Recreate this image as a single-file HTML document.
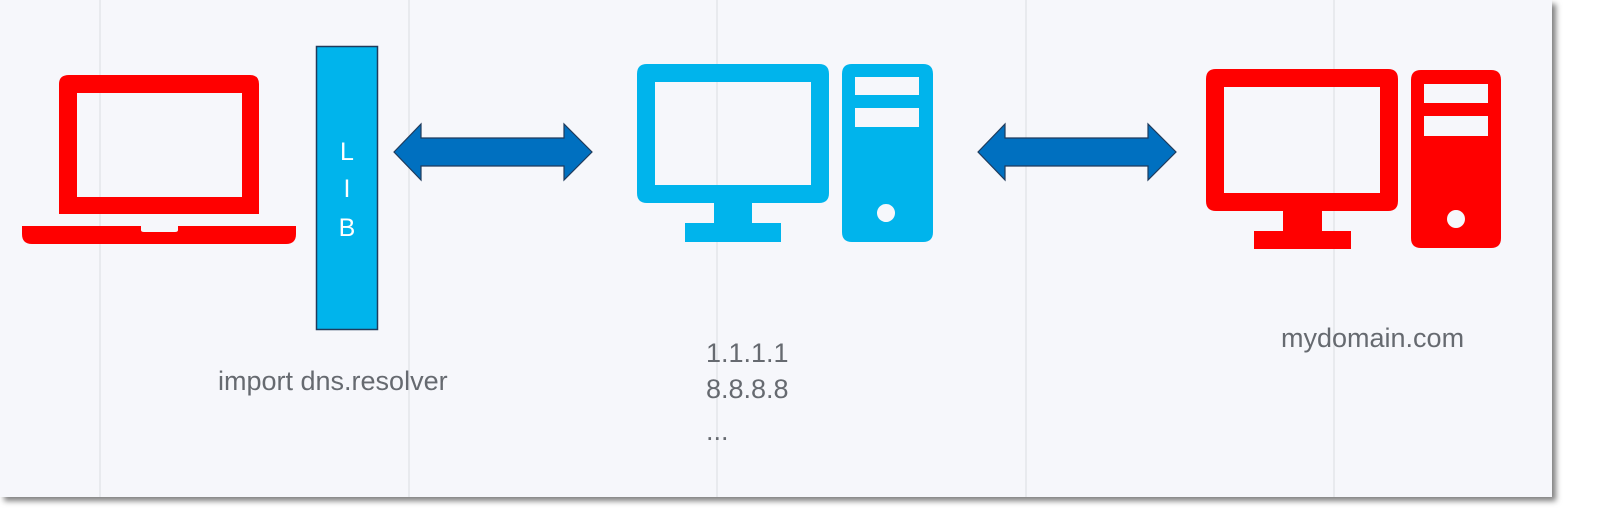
<!DOCTYPE html>
<html><head><meta charset="utf-8"><style>
body{margin:0;width:1600px;height:519px;background:#fff;overflow:hidden;font-family:"Liberation Sans",sans-serif}
</style></head><body>
<svg width="1600" height="519" viewBox="0 0 1600 519" xmlns="http://www.w3.org/2000/svg">
<defs><filter id="sh" x="-2%" y="-2%" width="105%" height="110%"><feDropShadow dx="4" dy="4" stdDeviation="3" flood-color="#000" flood-opacity="0.5"/></filter></defs>
<rect x="0" y="0" width="1552" height="497" fill="#f6f7fb" filter="url(#sh)"/>
<g stroke="#e3e5ea" stroke-width="1.5">
<line x1="100" y1="0" x2="100" y2="497"/><line x1="409" y1="0" x2="409" y2="497"/>
<line x1="717" y1="0" x2="717" y2="497"/><line x1="1026" y1="0" x2="1026" y2="497"/>
<line x1="1334" y1="0" x2="1334" y2="497"/></g>
<!-- laptop -->
<path fill-rule="evenodd" fill="#ff0000" d="M69 75 H250 Q259 75 259 84 V214 H59 V84 Q59 75 69 75 Z M77 93 V197 H242 V93 Z"/>
<path fill="#ff0000" d="M22 226 H141 V230 Q141 232 144 232 H175 Q178 232 178 230 V226 H296 V234 Q296 244 286 244 H32 Q22 244 22 234 Z"/>
<!-- LIB -->
<rect x="316.5" y="46.5" width="61" height="283" fill="#00b4ec" stroke="#1f3b5c" stroke-width="1.5"/>
<text x="347" y="160" fill="#fff" font-size="25" text-anchor="middle">L</text>
<text x="347" y="197" fill="#fff" font-size="25" text-anchor="middle">I</text>
<text x="347" y="236" fill="#fff" font-size="25" text-anchor="middle">B</text>
<!-- arrows -->
<path fill="#0070c0" stroke="#1f3b5c" stroke-width="1.2" d="M394 152 L421 124 V138 H564 V124 L592 152 L564 180 V166 H421 V180 Z"/>
<path fill="#0070c0" stroke="#1f3b5c" stroke-width="1.2" d="M978 152 L1005 124 V138 H1148 V124 L1176 152 L1148 180 V166 H1005 V180 Z"/>
<!-- blue computer -->
<g fill="#00b4ec">
<path fill-rule="evenodd" d="M647 64 H819 Q829 64 829 74 V193 Q829 203 819 203 H647 Q637 203 637 193 V74 Q637 64 647 64 Z M655 82 V185 H811 V82 Z"/>
<rect x="714" y="202" width="38" height="22"/><rect x="685" y="223" width="96" height="19"/>
<path fill-rule="evenodd" d="M852 64 H923 Q933 64 933 74 V232 Q933 242 923 242 H852 Q842 242 842 232 V74 Q842 64 852 64 Z M855 77 V95 H919 V77 Z M855 108 V127 H919 V108 Z M886 204 A9 9 0 1 0 886.01 204 Z"/>
</g>
<!-- red computer -->
<g fill="#ff0000">
<path fill-rule="evenodd" d="M1216 69 H1388 Q1398 69 1398 79 V201 Q1398 211 1388 211 H1216 Q1206 211 1206 201 V79 Q1206 69 1216 69 Z M1224 87 V193 H1380 V87 Z"/>
<rect x="1283" y="210" width="39" height="22"/><rect x="1254" y="231" width="97" height="18"/>
<path d="M1421 70 H1491 Q1501 70 1501 80 V238 Q1501 248 1491 248 H1421 Q1411 248 1411 238 V80 Q1411 70 1421 70 Z"/>
</g>
<rect x="1424" y="84" width="64" height="19" fill="#f6f7fb"/>
<rect x="1424" y="116" width="64" height="20" fill="#f6f7fb"/>
<circle cx="1456" cy="219" r="9" fill="#f6f7fb"/>
<!-- labels -->
<g fill="#666a70" font-size="27">
<text x="218" y="390">import dns.resolver</text>
<text x="706" y="362">1.1.1.1</text>
<text x="706" y="398">8.8.8.8</text>
<text x="706" y="440">...</text>
<text x="1281" y="347">mydomain.com</text>
</g>
</svg>
</body></html>
